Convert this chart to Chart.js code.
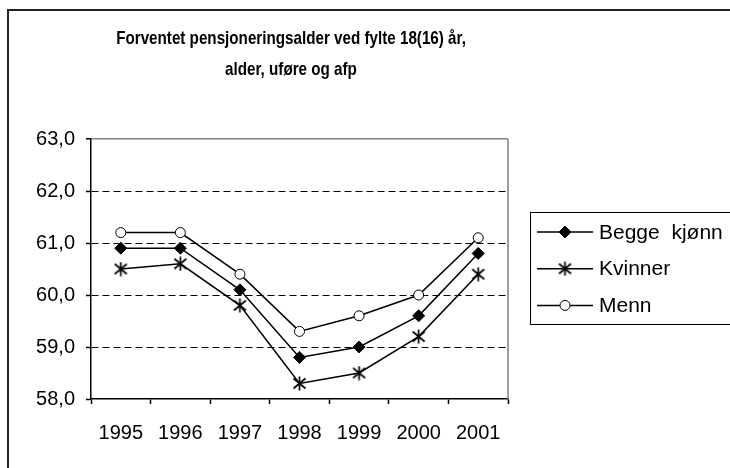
<!DOCTYPE html>
<html><head><meta charset="utf-8">
<script src="https://cdn.jsdelivr.net/npm/chart.js@4/dist/chart.umd.min.js"></script>
<style>html,body{margin:0;padding:0;background:#fff;} canvas{display:block;}</style>
</head><body>
<canvas id="c" width="730" height="468"></canvas>
<script>
const categories = ['1995', '1996', '1997', '1998', '1999', '2000', '2001'];
const beggeKjonn = [60.9, 60.9, 60.1, 58.8, 59.0, 59.6, 60.8];
const kvinner    = [60.5, 60.6, 59.8, 58.3, 58.5, 59.2, 60.4];
const menn       = [61.2, 61.2, 60.4, 59.3, 59.6, 60.0, 61.1];
const seriesNames = ['Begge  kjønn', 'Kvinner', 'Menn'];
const titleLines = ['Forventet pensjoneringsalder ved fylte 18(16) år,', 'alder, uføre og afp'];
const yTickLabels = ['58,0', '59,0', '60,0', '61,0', '62,0', '63,0'];
const yMin = 58, yMax = 63;

const FONT = '"Liberation Sans", Arial, sans-serif';

function makeStar() {
  const c = document.createElement('canvas');
  c.width = 15; c.height = 15;
  const g = c.getContext('2d');
  g.strokeStyle = '#000'; g.lineWidth = 1.7; g.lineCap = 'butt';
  g.beginPath();
  g.moveTo(7.5, 0.5); g.lineTo(7.5, 14.5);
  g.moveTo(1.5, 2.5); g.lineTo(13.5, 12.5);
  g.moveTo(13.5, 2.5); g.lineTo(1.5, 12.5);
  g.stroke();
  return c;
}
const starImg = makeStar();

function drawMarker(ctx, style, x, y, r) {
  ctx.save();
  ctx.lineWidth = 1;
  ctx.strokeStyle = '#000';
  if (style === 'rectRot') {
    ctx.fillStyle = '#000';
    ctx.beginPath();
    ctx.moveTo(x - r, y); ctx.lineTo(x, y - r); ctx.lineTo(x + r, y); ctx.lineTo(x, y + r);
    ctx.closePath(); ctx.fill(); ctx.stroke();
  } else if (style === 'circle') {
    ctx.fillStyle = '#fff';
    ctx.beginPath(); ctx.arc(x, y, r, 0, Math.PI * 2); ctx.fill(); ctx.stroke();
  } else if (style instanceof HTMLCanvasElement) {
    ctx.drawImage(style, x - style.width / 2, y - style.height / 2);
  }
  ctx.restore();
}

const decor = {
  id: 'decor',
  beforeDraw(chart) {
    const ctx = chart.ctx;
    ctx.save();
    ctx.fillStyle = '#fff';
    ctx.fillRect(0, 0, chart.width, chart.height);
    ctx.restore();
  },
  beforeDatasetsDraw(chart) {
    const ctx = chart.ctx, a = chart.chartArea;
    ctx.save();
    ctx.strokeStyle = '#808080'; ctx.lineWidth = 1.5;
    ctx.beginPath();
    ctx.moveTo(a.right, a.top); ctx.lineTo(a.right, a.bottom);
    ctx.stroke();
    ctx.restore();
  },
  afterDraw(chart) {
    const ctx = chart.ctx;
    ctx.save();
    // outer chart frame
    ctx.strokeStyle = '#222'; ctx.lineWidth = 2;
    ctx.strokeRect(8, 10, 740, 470);
    // title
    ctx.fillStyle = '#000';
    ctx.font = 'bold 19px ' + FONT;
    ctx.textAlign = 'center'; ctx.textBaseline = 'alphabetic';
    const sx = 0.8;
    titleLines.forEach((t, i) => {
      ctx.save();
      ctx.translate(291, 44 + i * 31);
      ctx.scale(sx, 1);
      ctx.fillText(t, 0, 0);
      ctx.restore();
    });
    // legend box
    ctx.strokeStyle = '#000'; ctx.lineWidth = 1;
    ctx.strokeRect(530.5, 212.5, 220, 112);
    ctx.font = '20px ' + FONT;
    ctx.textAlign = 'left'; ctx.textBaseline = 'middle';
    chart.data.datasets.forEach((ds, i) => {
      const y = 232 + i * 36.7;
      ctx.strokeStyle = '#000'; ctx.lineWidth = 1.5;
      ctx.beginPath(); ctx.moveTo(537, y); ctx.lineTo(593, y); ctx.stroke();
      drawMarker(ctx, ds.pointStyle, 565, y, ds.pointRadius);
      ctx.fillStyle = '#000';
      ctx.save();
      ctx.translate(599, y + 1);
      ctx.scale(1.05, 1);
      ctx.fillText(ds.label, 0, 0);
      ctx.restore();
    });
    ctx.restore();
  }
};

const common = { borderColor: '#000', borderWidth: 1.5, pointBorderColor: '#000', pointBorderWidth: 1, tension: 0 };

new Chart(document.getElementById('c'), {
  type: 'line',
  data: {
    labels: categories,
    datasets: [
      Object.assign({ label: seriesNames[0], data: beggeKjonn, pointStyle: 'rectRot', pointRadius: 6, pointBackgroundColor: '#000' }, common),
      Object.assign({ label: seriesNames[1], data: kvinner, pointStyle: starImg, pointRadius: 7, pointBackgroundColor: '#000' }, common),
      Object.assign({ label: seriesNames[2], data: menn, pointStyle: 'circle', pointRadius: 5, pointBackgroundColor: '#fff' }, common)
    ]
  },
  options: {
    responsive: false,
    animation: false,
    devicePixelRatio: 1,
    layout: { padding: { left: 0, right: 222, top: 139, bottom: 0 } },
    plugins: { legend: { display: false }, title: { display: false }, tooltip: { enabled: false } },
    scales: {
      x: {
        type: 'category',
        offset: true,
        grid: { offset: true, drawOnChartArea: false, tickLength: 5, tickColor: '#000', tickWidth: 1.5 },
        border: { display: true, color: '#000', width: 1.5 },
        ticks: { color: '#000', font: { family: FONT, size: 20 }, padding: 17, maxRotation: 0, autoSkip: false },
        afterFit(s) { s.height = 69; }
      },
      y: {
        min: yMin, max: yMax,
        grid: {
          color: c => (c.tick && c.tick.value === yMax) ? '#808080' : (c.tick && c.tick.value === yMin ? 'rgba(0,0,0,0)' : '#000'),
          lineWidth: c => (c.tick && c.tick.value === yMax) ? 1.5 : 1,
          tickLength: 5, tickColor: '#000', tickWidth: 1.5
        },
        border: { display: true, color: '#000', width: 1.5, dash: c => (c.tick && c.tick.value === yMax) ? [] : [7, 4] },
        ticks: {
          stepSize: 1, color: '#000', font: { family: FONT, size: 20 }, padding: 11,
          callback: (v) => yTickLabels[Math.round(v - yMin)]
        },
        afterFit(s) { s.width = 91; }
      }
    }
  },
  plugins: [decor]
});
</script>
</body></html>
